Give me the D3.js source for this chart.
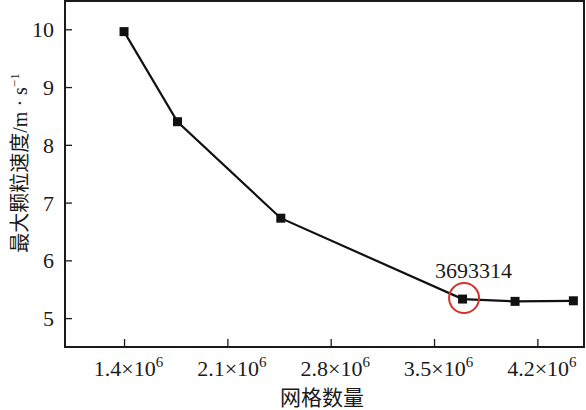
<!DOCTYPE html>
<html>
  <head>
    <meta charset="utf-8" />
    <title>网格数量 – 最大颗粒速度</title>
    <script src="https://d3js.org/d3.v7.min.js"></script>
    <style>
      body { margin: 0; background: #fff; }
    </style>
  </head>
  <body>
    <svg width="586" height="410"></svg>
    <script>
      // data
      const meshCounts = [1.4e6, 1.762e6, 2.462e6, 3693314, 4.049e6, 4.444e6];
      const maxSpeed = [9.96, 8.40, 6.73, 5.33, 5.29, 5.30];
      const xTicks = [1.4e6, 2.1e6, 2.8e6, 3.5e6, 4.2e6];
      const yTicks = [5, 6, 7, 8, 9, 10];
      const highlight = 3;

      const serif = "'Liberation Serif', 'DejaVu Serif', serif";
      const cjk = "'Noto Sans CJK SC', sans-serif";
      const ink = "#1a1a1a";

      const svg = d3.select("svg");
      const plotL = 65, plotR = 584, plotT = 1, plotB = 347;

      const x = d3.scaleLinear().domain([1.0e6, 4.516e6]).range([plotL, plotR]);
      const y = d3.scaleLinear().domain([4.5, 10.49]).range([plotB, plotT]);

      // y axis, ticks pointing inward
      const yAxis = svg.append("g")
        .attr("transform", "translate(" + plotL + ",0)")
        .call(d3.axisLeft(y).tickValues(yTicks).tickSize(-7).tickPadding(11).tickFormat(d3.format("d")));
      yAxis.attr("font-family", serif);
      yAxis.select(".domain").remove();
      yAxis.selectAll("line").attr("stroke", ink).attr("stroke-width", 1.3);
      yAxis.selectAll("text").attr("font-size", 22).attr("fill", ink).attr("dy", "0.34em");

      // x axis
      const xAxis = svg.append("g")
        .attr("transform", "translate(0," + plotB + ")")
        .call(d3.axisBottom(x).tickValues(xTicks).tickSize(-8).tickFormat(""));
      xAxis.attr("font-family", serif);
      xAxis.select(".domain").remove();
      xAxis.selectAll("line").attr("stroke", ink).attr("stroke-width", 1.3);
      xAxis.selectAll(".tick").append("text")
        .attr("y", 29)
        .attr("x", 4)
        .attr("font-size", 22)
        .attr("fill", ink)
        .attr("text-anchor", "middle")
        .each(function(d) {
          const t = d3.select(this);
          t.append("tspan").text((d / 1e6).toFixed(1) + "×10");
          t.append("tspan").attr("dy", -9).attr("font-size", 15).text("6");
        });

      // frame
      svg.append("rect")
        .attr("x", plotL).attr("y", plotT)
        .attr("width", plotR - plotL).attr("height", plotB - plotT)
        .attr("fill", "none").attr("stroke", ink).attr("stroke-width", 2);

      // series
      const pts = meshCounts.map((d, i) => [d, maxSpeed[i]]);
      svg.append("path")
        .datum(pts)
        .attr("fill", "none")
        .attr("stroke", "#111")
        .attr("stroke-width", 2.2)
        .attr("d", d3.line().x(d => x(d[0])).y(d => y(d[1])));

      svg.selectAll(".marker")
        .data(pts)
        .enter().append("rect")
        .attr("class", "marker")
        .attr("x", d => x(d[0]) - 4.5)
        .attr("y", d => y(d[1]) - 4.5)
        .attr("width", 9).attr("height", 9)
        .attr("fill", "#111");

      // highlighted point
      const hp = pts[highlight];
      svg.append("circle")
        .attr("cx", x(hp[0]) + 1.5)
        .attr("cy", y(hp[1]) - 1)
        .attr("r", 15)
        .attr("fill", "none")
        .attr("stroke", "#d8312a")
        .attr("stroke-width", 2);
      svg.append("text")
        .attr("x", x(hp[0]) + 11)
        .attr("y", y(hp[1]) - 21)
        .attr("text-anchor", "middle")
        .attr("font-family", serif)
        .attr("font-size", 22)
        .attr("fill", ink)
        .text(hp[0]);

      // axis titles
      svg.append("text")
        .attr("x", 322)
        .attr("y", 405)
        .attr("text-anchor", "middle")
        .attr("font-family", cjk)
        .attr("font-size", 21)
        .attr("fill", ink)
        .text("网格数量");

      const yl = svg.append("text")
        .attr("transform", "translate(27,163) rotate(-90)")
        .attr("text-anchor", "middle")
        .attr("font-family", serif)
        .attr("font-size", 20)
        .attr("fill", ink);
      yl.append("tspan").attr("font-family", cjk).text("最大颗粒速度");
      yl.append("tspan").text("/m · s");
      yl.append("tspan").attr("dy", -8).attr("font-size", 13).text("−1");
    </script>
  </body>
</html>
